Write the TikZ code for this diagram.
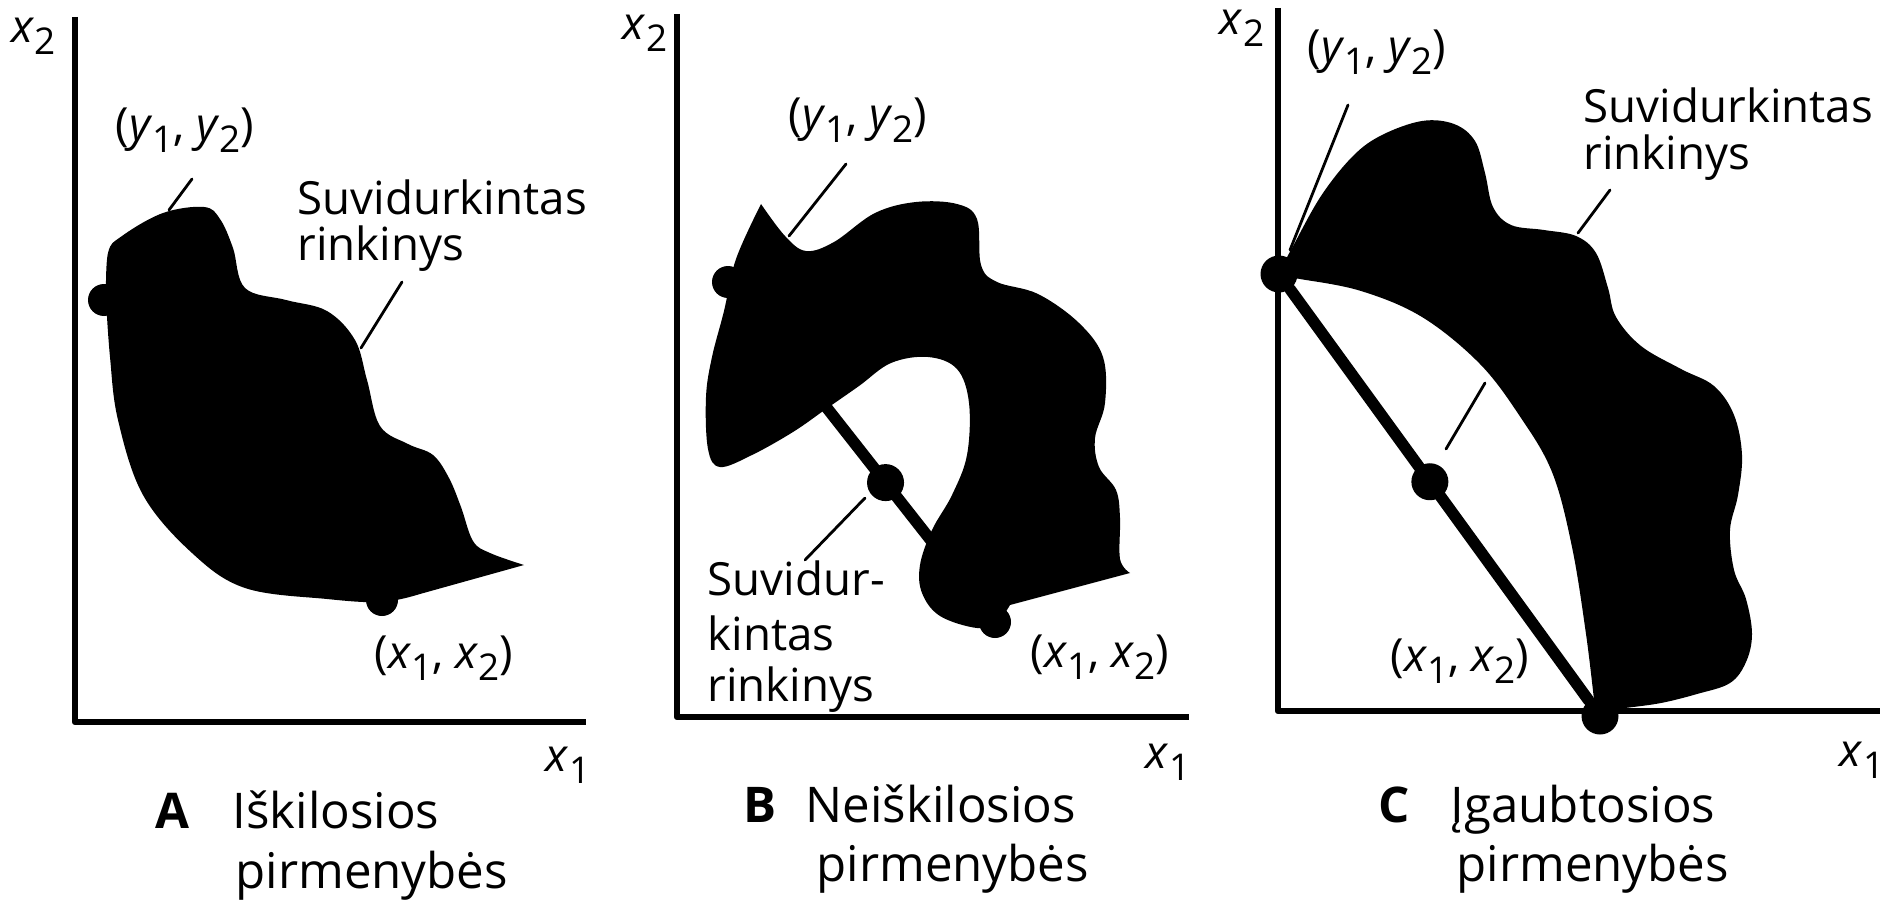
\documentclass[tikz,border=0pt]{standalone}
\usepackage{fontspec}
\setmainfont{Open Sans}
\usetikzlibrary{calc}
\newcommand{\axv}[2]{\textit{#1}\raisebox{-0.5ex}{\fontsize{10.5}{10.5}\selectfont #2}}
\tikzset{
  axis/.style={line width=0.65mm, line cap=butt},
  seg/.style={line width=1.15mm},
  lead/.style={line width=0.28mm},
  blob/.style={fill=black},
  dot/.style={circle, fill=black, inner sep=0pt, minimum size=3.7mm},
  lbl/.style={inner sep=0pt, font=\fontsize{13}{13}\selectfont},
  captxt/.style={inner sep=0pt, font=\fontsize{14}{14}\selectfont}
}
\begin{document}
\begin{tikzpicture}[x=0.1mm, y=-0.1mm, line join=round, line cap=round]
\useasboundingbox (0,0) rectangle (1895,903);

% A: convex
\coordinate (tA) at (75,17); \coordinate (oA) at (75,722); \coordinate (rA) at (586,722);
\fill[blob] plot[smooth, tension=.6] coordinates {(106,300) (108,253) (122,236) (163,213) (204,207) (220,219) (233,248) (245,288) (286,300) (327,311) (355,340) (367,380) (380,426) (408,444) (433,455) (449,478) (461,507) (473,541) (490,553) (524,565)}
  -- plot[smooth, tension=.6] coordinates {(420,594) (382,602) (327,599) (245,588) (192,553) (143,495) (118,420) (110,357) (106,300)} -- cycle;
\draw[axis] (tA) -- (oA) -- (rA);
\node[dot, minimum size=3.2mm] (yA) at (104,300) {};
\node[dot, minimum size=3.2mm] (xA) at (382,600) {};
\node[lbl] (x2A) at (34,36) {\axv{x}{2}};
\node[lbl] (x1A) at (568,765) {\axv{x}{1}};
\node[lbl] (yyA) at (185,130) {(\axv{y}{1}, \axv{y}{2})};
\node[lbl] (xxA) at (444,658) {(\axv{x}{1}, \axv{x}{2})};
\node[lbl, anchor=base west] (sA1) at (297,215) {Suvidurkintas};
\node[lbl, anchor=base west] (sA2) at (297,260) {rinkinys};
\coordinate (a1) at (192,179); \coordinate (a2) at (169,210);
\coordinate (a3) at (402,282); \coordinate (a4) at (361,348);
\draw[lead] (a1) -- (a2);
\draw[lead] (a3) -- (a4);
\node[captxt, anchor=base] (kA) at (172,828) {\textbf{A}};
\node[captxt, anchor=base west] (cA1) at (232,828) {Iškilosios};
\node[captxt, anchor=base west] (cA2) at (235,888) {pirmenybės};

% B: non-convex
\coordinate (tB) at (677,14); \coordinate (oB) at (677,717); \coordinate (rB) at (1189,717);
\fill[blob] plot[smooth, tension=.6] coordinates {(761,204) (785,236) (806,251) (834,242) (875,213) (916,202) (957,204) (977,219) (981,265) (997,282) (1038,294) (1079,323) (1103,357) (1105,403) (1095,438) (1099,467) (1116,490) (1120,518) (1120,559) (1130,573)}
  -- plot[smooth, tension=.6] coordinates {(1010,605) (997,622) (977,628) (940,616) (922,593) (920,565) (932,530) (952,495) (967,455) (969,403) (957,369) (928,357) (891,363) (859,386) (826,409) (793,432) (752,455) (720,467) (708,449) (706,397) (712,357) (724,311) (736,259) (761,204)} -- cycle;
\draw[axis] (tB) -- (oB) -- (rB);
\node[dot, minimum size=3.2mm] (yB) at (728,282) {};
\node[dot, minimum size=3.2mm] (xB) at (995,622) {};
\draw[seg] (yB) -- (xB);
\node[dot] (mB) at ($(yB)!0.59!(xB)$) {};
\node[lbl] (x2B) at (645,33) {\axv{x}{2}};
\node[lbl] (x1B) at (1168,762) {\axv{x}{1}};
\node[lbl] (yyB) at (858,120) {(\axv{y}{1}, \axv{y}{2})};
\node[lbl] (xxB) at (1100,657) {(\axv{x}{1}, \axv{x}{2})};
\node[lbl, anchor=base west] (sB1) at (707,595) {Suvidur-};
\node[lbl, anchor=base west] (sB2) at (707,650) {kintas};
\node[lbl, anchor=base west] (sB3) at (707,701) {rinkinys};
\coordinate (b1) at (846,164); \coordinate (b2) at (789,236);
\coordinate (b3) at (865,498); \coordinate (b4) at (805,560);
\draw[lead] (b1) -- (b2);
\draw[lead] (b3) -- (b4);
\node[captxt, anchor=base] (kB) at (760,822) {\textbf{B}};
\node[captxt, anchor=base west] (cB1) at (805,822) {Neiškilosios};
\node[captxt, anchor=base west] (cB2) at (816,881) {pirmenybės};

% C: concave
\coordinate (tC) at (1278,8); \coordinate (oC) at (1278,711); \coordinate (rC) at (1880,711);
\fill[blob] plot[smooth, tension=.6] coordinates {(1277,276) (1292,248) (1321,196) (1353,156) (1382,135) (1422,121) (1454,124) (1475,141) (1485,173) (1493,207) (1511,225) (1544,230) (1576,236) (1596,253) (1608,288) (1616,317) (1641,346) (1681,369) (1714,386) (1734,415) (1742,455) (1738,495) (1730,530) (1734,570) (1746,599) (1752,634) (1746,662) (1730,683) (1697,694) (1661,703) (1625,708) (1600,711)}
  -- plot[smooth, tension=.6] coordinates {(1594,700) (1586,634) (1572,547) (1552,472) (1519,415) (1479,363) (1422,317) (1361,291) (1300,279) (1277,276)} -- cycle;
\draw[axis] (tC) -- (oC) -- (rC);
\node[dot] (yC) at (1279,274) {};
\node[dot] (xC) at (1600,716) {};
\draw[seg] (yC) -- (xC);
\node[dot] (mC) at ($(yC)!0.47!(xC)$) {};
\node[lbl] (x2C) at (1242,28) {\axv{x}{2}};
\node[lbl] (x1C) at (1862,760) {\axv{x}{1}};
\node[lbl] (yyC) at (1377,52) {(\axv{y}{1}, \axv{y}{2})};
\node[lbl] (xxC) at (1460,661) {(\axv{x}{1}, \axv{x}{2})};
\node[lbl, anchor=base west] (sC1) at (1583,122) {Suvidurkintas};
\node[lbl, anchor=base west] (sC2) at (1583,170) {rinkinys};
\coordinate (c1) at (1348,105); \coordinate (c2) at (1290,250);
\coordinate (c3) at (1610,190); \coordinate (c4) at (1578,233);
\coordinate (c5) at (1485,383); \coordinate (c6) at (1446,449);
\draw[lead] (c1) -- (c2);
\draw[lead] (c3) -- (c4);
\draw[lead] (c5) -- (c6);
\node[captxt, anchor=base] (kC) at (1394,822) {\textbf{C}};
\node[captxt, anchor=base west] (cC1) at (1450,822) {Įgaubtosios};
\node[captxt, anchor=base west] (cC2) at (1456,881) {pirmenybės};
\end{tikzpicture}
\end{document}
